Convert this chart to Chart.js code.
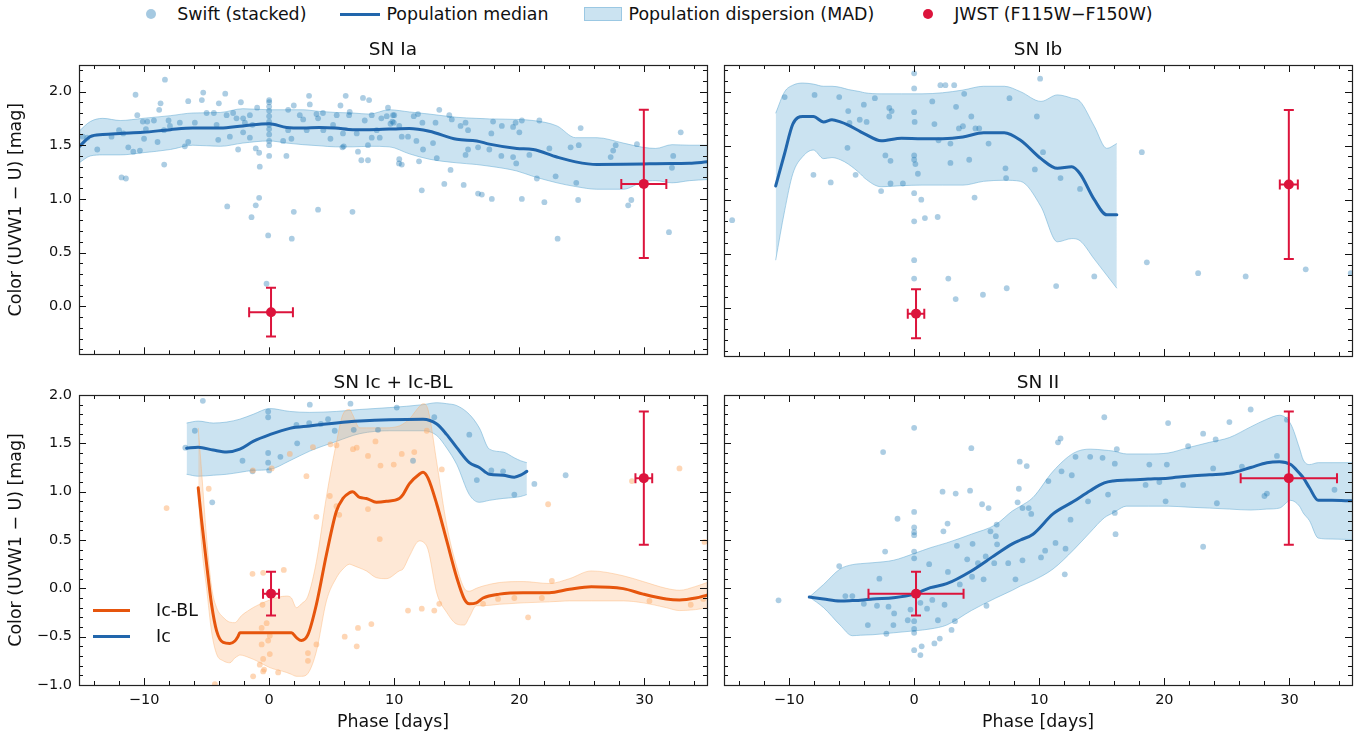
<!DOCTYPE html>
<html><head><meta charset="utf-8">
<script src="https://cdn.jsdelivr.net/npm/chart.js@4.4.0/dist/chart.umd.min.js"></script>
<style>
html,body{margin:0;padding:0;background:#fff;}
body{width:1369px;height:734px;position:relative;overflow:hidden;font-family:"DejaVu Sans",sans-serif;color:#111;}
canvas{position:absolute;}
#legend{position:absolute;top:3px;left:0;width:1284px;height:22px;display:flex;justify-content:center;align-items:center;font-size:17.4px;white-space:nowrap;}
.item{display:flex;align-items:center;margin:0 17px;}
.h{width:40px;height:20px;position:relative;margin-right:6px;}
.dot{position:absolute;left:15px;top:5px;width:10px;height:10px;border-radius:50%;}
.ln{position:absolute;left:0;top:8.5px;width:40px;height:3px;}
.rc{position:absolute;left:1px;top:3px;width:38px;height:14px;}
.il{position:absolute;font-size:17.4px;line-height:20px;}
.ilsw{position:absolute;height:3px;width:37px;}
</style></head>
<body>
<div id="legend">
  <div class="item"><div class="h"><div class="dot" style="background:rgba(31,119,180,0.4)"></div></div><span>Swift (stacked)</span></div>
  <div class="item"><div class="h"><div class="ln" style="background:#2166ac"></div></div><span>Population median</span></div>
  <div class="item"><div class="h"><div class="rc" style="background:rgba(107,174,214,0.35);border:1px solid rgba(107,174,214,0.5);box-sizing:border-box"></div></div><span>Population dispersion (MAD)</span></div>
  <div class="item"><div class="h"><div class="dot" style="background:#dc143c"></div></div><span>JWST (F115W−F150W)</span></div>
</div>
<canvas id="cIa" width="715" height="340" style="left:0;top:30px"></canvas>
<canvas id="cIb" width="653" height="340" style="left:716px;top:30px"></canvas>
<canvas id="cIc" width="715" height="364" style="left:0;top:370px"></canvas>
<canvas id="cII" width="653" height="364" style="left:716px;top:370px"></canvas>
<div class="ilsw" style="left:93px;top:609px;background:#e6550d"></div>
<div class="il" style="left:156px;top:600px">Ic-BL</div>
<div class="ilsw" style="left:93px;top:635px;background:#2166ac"></div>
<div class="il" style="left:156px;top:626px">Ic</div>
<script>
// ---------------- DATA ----------------
const phaseLimits = [-15.2, 35];
const yLimitsTop = [-0.447, 2.247];
const yLimitsBottom = [-1.0, 2.0];
const xTickValues = [-10, 0, 10, 20, 30];
const yTickValuesTop = [0.0, 0.5, 1.0, 1.5, 2.0];
const yTickValuesBottom = [-1.0, -0.5, 0.0, 0.5, 1.0, 1.5, 2.0];

// JWST measurement (F115W-F150W)
const jwstPhase = [0.15, 29.95];
const jwstColor = [-0.055, 1.14];
const jwstColorErr = [0.227, 0.69];
const jwstPhaseErrIa = [1.75, 1.8];
const jwstPhaseErrIb = [0.66, 0.72];
const jwstPhaseErrIc = [0.64, 0.67];
const jwstPhaseErrII = [3.8, 3.85];

// SN Ia
const iaSwift = [[-8.33,2.11],[-10.68,1.97],[-8.68,1.89],[-8.79,1.83],[-10.54,1.78],[-6.47,1.91],[-5.27,1.99],[-5.38,1.92],[-4.02,1.89],[-3.51,1.98],[-2.26,1.90],
[0,1.92],[0,1.90],[0,1.86],[0,1.82],[0,1.77],[0,1.72],[0,1.65],[0,1.54],[0,1.50],[0,1.40],[0,1.60],[0,1.69],
[1.97,1.87],[1.52,1.83],[3.78,1.79],[6.12,1.96],[5.7,1.87],[7.5,1.94],[7.99,1.92],[9.5,1.85],[9.85,1.72],[8.97,1.75],[7.64,1.73],[6.44,1.81],[6.39,1.78],[5.11,1.69],[3.91,1.75],[2.72,1.74],[2.45,1.78],[1.52,1.64],[1.12,1.54],[1.78,1.56],[3.0,1.64],[4.33,1.64],[5.9,1.61],[7.0,1.61],[8.84,1.57],[8.2,1.57],[5.86,1.48],[5.96,1.49],[7.1,1.44],[7.37,1.36],[7.9,1.36],[7.9,1.50],[10.38,1.33],[-0.75,1.30],[-0.8,1.43],[-1.07,1.47],[1.38,1.40],[-2.48,1.46],[-3.14,1.58],[-4.07,1.55],[-4.2,1.69],[-4.42,1.80],[-3.4,1.78],[-2.88,1.80],[-2.61,1.75],[-2.08,1.75],[-1.94,1.71],[-2.08,1.62],[-1.54,1.57],[-0.96,1.85],[-1.54,1.78],[-1.33,1.69],[-5.0,1.80],[-5.94,1.71],[-6.47,1.53],[-6.74,1.49],[-7.14,1.71],[-7.93,1.68],[-8.04,1.73],[-8.41,1.64],[-8.92,1.53],[-9.21,1.73],[-9.74,1.72],[-10.1,1.72],[-9.85,1.65],[-10.0,1.56],[-10.33,1.45],[-10.86,1.44],[-11.26,1.48],[-11.66,1.61],[-12.0,1.64],[-12.6,1.58],[-13.74,1.46],[-14.54,1.57],[-14.9,1.58],[-11.8,1.20],[-11.45,1.19],[-8.39,1.32],[-3.35,0.93],[-1.07,0.94],[-0.8,1.01],[-1.41,0.83],[-0.08,0.66],[1.97,0.88],[1.81,0.63],[3.91,0.90],[6.66,0.88],[-0.21,0.21],[3.19,1.96],[3.25,1.88],[4.9,1.56],[5.4,1.78],[4.3,1.80],[9.4,1.77],[9.7,1.70],[8.6,1.64],[8.2,1.78],[10.0,1.78],
[9.9,1.78],[9.96,1.71],[10.4,1.68],[10.6,1.58],[10.4,1.37],[10.6,1.32],[11.1,1.58],[11.56,1.77],[11.9,1.79],[12.25,1.71],[11.77,1.54],[11.98,1.35],[12.3,1.46],[12.2,1.08],[13.1,1.52],[13.3,1.71],[13.4,1.38],[13.6,1.83],[14.4,1.78],[14.6,1.74],[14.5,1.27],[14.0,1.14],[15.3,1.68],[15.7,1.71],[15.9,1.64],[15.9,1.46],[15.7,1.41],[15.55,1.13],[16.7,1.48],[16.7,1.05],[17.0,1.04],[17.6,1.46],[17.76,1.61],[17.9,1.72],[17.8,1.00],[18.56,1.40],[18.6,1.68],[19.5,1.39],[19.5,1.67],[19.7,1.71],[19.75,1.33],[20.0,1.62],[20.2,1.73],[20.2,1.00],[20.8,1.41],[21.4,1.19],[21.6,1.73],[22.0,0.97],[22.4,1.47],[22.9,1.21],[23.06,0.63],[24.1,1.48],[24.75,1.50],[24.9,1.66],[24.55,1.15],[24.7,0.99],[27.3,1.39],[27.5,1.45],[27.7,1.50],[28.95,0.99],[28.7,0.94],[29.4,1.51],[31.96,0.69],[32.2,1.29],[32.3,1.40],[32.9,1.62]];
const iaGridPhase = [-15.2,-14.3,-13.3,-11.9,-10.1,-7.9,-6.1,-3.9,-2.1,0,1.4,2.7,4.0,5.3,6.7,8.0,9.6,11.2,12.8,15.0,16.6,17.6,19.8,21.1,23.0,24.5,26.2,28.3,29.9,30.9,32.2,33.6,35];
const iaMedian = [1.485,1.58,1.60,1.61,1.62,1.645,1.66,1.66,1.68,1.70,1.665,1.66,1.665,1.66,1.645,1.645,1.65,1.655,1.63,1.555,1.54,1.51,1.47,1.46,1.39,1.345,1.32,1.322,1.325,1.328,1.33,1.332,1.345];
const iaMadHi = [1.63,1.72,1.75,1.73,1.75,1.775,1.80,1.805,1.84,1.83,1.83,1.83,1.815,1.805,1.80,1.79,1.83,1.81,1.79,1.76,1.75,1.745,1.74,1.73,1.68,1.57,1.57,1.52,1.48,1.47,1.505,1.50,1.50];
const iaMadLo = [1.335,1.40,1.41,1.41,1.43,1.46,1.50,1.49,1.52,1.54,1.52,1.505,1.495,1.485,1.485,1.49,1.485,1.42,1.37,1.336,1.32,1.305,1.26,1.21,1.15,1.115,1.09,1.09,1.16,1.17,1.15,1.17,1.18];

// SN Ib
const ibSwift = [[-14.55,0.81],[-10.35,1.95],[-7.96,1.97],[-5.99,1.95],[-5.27,1.82],[-5.17,1.71],[-4.35,1.74],[-3.8,1.72],[-4.02,1.88],[-3.14,1.94],[-1.99,1.85],[-1.8,1.82],[-1.99,1.77],[-5.33,1.48],[-8.05,1.23],[-6.67,1.16],[-4.68,1.23],[-2.64,1.08],[-2.3,1.41],[-1.89,1.36],[-1.89,1.15],[-0.9,1.15],[0,2.17],[0,2.03],[0,1.81],[0.04,1.72],[0,1.41],[0,1.37],[0.1,1.33],[0.3,1.24],[0,1.06],[0.57,1.0],[0,0.8],[0.86,0.83],[1.88,0.84],[0,0.44],[0,0.27],[1.62,1.70],[1.45,1.91],[2.1,2.06],[2.5,2.06],[3.2,2.06],[1.95,1.55],[2.9,1.52],[2.9,1.34],[3.35,1.86],[3.58,1.66],[3.9,1.68],[4.0,1.98],[4.4,1.37],[4.57,1.77],[4.9,1.66],[5.2,1.66],[4.83,1.02],[5.95,1.52],[2.73,0.27],[3.32,0.08],[5.5,0.12],[7.4,0.18],[7.3,1.29],[7.35,1.20],[7.62,1.94],[9.65,1.28],[9.81,1.77],[10.07,2.12],[10.3,1.44],[11.7,1.20],[13.26,1.10],[11.35,0.20],[14.4,0.29],[18.2,1.44],[18.6,0.42],[22.7,0.32],[26.5,0.29],[31.3,0.355],[34.9,0.32]];
const ibGridPhase = [-11.07,-10.35,-9.7,-8.9,-8.06,-7.24,-6.57,-5.9,-5.27,-4.3,-3.96,-2.64,-1.0,0.63,2.27,3.9,5.55,7.2,8.5,10.14,11.45,12.6,13.26,14.4,15.4,16.2];
const ibMedian = [1.127,1.43,1.70,1.77,1.77,1.72,1.74,1.72,1.69,1.63,1.61,1.546,1.57,1.565,1.565,1.58,1.62,1.62,1.55,1.38,1.29,1.305,1.24,1.0,0.86,0.86];
const ibMadHi = [1.80,2.0,2.06,2.08,2.07,2.05,2.05,2.04,2.02,2.0,1.99,1.98,1.98,1.98,1.99,2.015,2.05,2.05,2.0,1.91,1.97,1.94,1.91,1.68,1.475,1.52];
const ibMadLo = [0.44,0.90,1.24,1.40,1.46,1.38,1.39,1.37,1.33,1.24,1.20,1.12,1.13,1.135,1.135,1.135,1.17,1.18,1.17,0.935,0.61,0.64,0.62,0.45,0.30,0.18];

// SN Ic (blue) and Ic-BL (orange)
const icSwift = [[-5.3,1.94],[-5.94,1.63],[-6.7,1.455],[-4.55,0.89],[-2.13,1.32],[-1.33,1.21],[-0.08,1.83],[-0.08,1.77],[-0.08,1.40],[-0.08,1.30],[0,1.22],[0.9,1.36],[2.24,1.50],[2.18,1.69],[3.25,1.90],[3.2,1.71],[4.13,1.70],[4.71,1.75],[5.24,1.63],[6.5,1.91],[6.76,1.64],[8.7,1.64],[10.2,1.87],[11.5,1.32],[13.2,1.77],[16.0,1.59],[16.6,1.12],[17.76,1.22],[18.7,1.21],[19.6,0.97],[21.2,1.08],[23.7,1.17]];
const icGridPhase = [-6.6,-5.67,-4.47,-3.4,-2.34,-1.28,0.05,1.65,3.25,5.38,7.24,9.64,12.3,13.4,14.2,15.0,16.0,16.8,17.6,18.7,19.6,20.1,20.6];
const icMedian = [1.45,1.46,1.43,1.41,1.44,1.52,1.59,1.655,1.68,1.71,1.73,1.745,1.75,1.70,1.59,1.455,1.30,1.25,1.18,1.17,1.15,1.17,1.21];
const icMadHi = [1.71,1.73,1.71,1.72,1.75,1.80,1.86,1.83,1.82,1.83,1.85,1.87,1.90,1.92,1.91,1.89,1.80,1.66,1.44,1.41,1.35,1.32,1.30];
const icMadLo = [1.18,1.16,1.17,1.18,1.20,1.22,1.23,1.32,1.42,1.52,1.60,1.63,1.63,1.58,1.45,1.28,0.97,0.89,0.91,0.93,0.94,0.95,0.97];

const icblSwift = [[-8.2,0.83],[-4.83,1.03],[-1.33,0.15],[-0.48,0.16],[1.17,0.19],[-0.53,-0.17],[1.65,1.39],[0.2,1.24],[-1.3,1.22],[2.98,1.16],[3.5,1.46],[3.78,0.74],[4.85,0.955],[5.38,0.85],[5.6,0.76],[6.7,1.44],[7.0,1.455],[7.9,0.82],[7.9,1.37],[8.5,1.52],[8.9,1.27],[8.84,0.51],[9.96,1.28],[4.9,1.49],[5.38,1.48],
[-0.6,-0.41],[-0.2,-0.36],[0.05,-0.49],[-0.08,-0.54],[-0.6,-0.58],[0.05,-0.68],[-0.48,-0.73],[-0.75,-0.79],[-0.4,-0.84],[-0.48,-0.86],[0.72,-0.87],[-1.28,-0.91],[3.1,-0.67],[3.1,-0.75],[3.78,-0.58],[6.04,-0.50],[7.1,-0.41],[8.17,-0.37],[7.0,-0.60],[-4.34,-0.99],
[10.6,1.39],[11.6,1.41],[12.6,1.63],[13.8,1.23],[11.1,-0.23],[12.2,-0.21],[13.2,-0.23],[13.6,-0.16],[17.1,-0.16],[18.3,-0.11],[19.6,-0.10],[20.7,-0.30],[21.8,-0.10],[22.3,0.87],[22.6,0.076],[29.0,1.11],[32.8,1.24],[34.8,0.48],[30.4,-0.13],[33.7,-0.17],[34.7,-0.11]];
const icblGridPhase = [-5.67,-5.4,-5.0,-4.6,-4.2,-3.67,-3.14,-2.74,-2.5,-2.34,-1.54,-1.0,0.05,1.38,1.78,2.18,2.58,3.1,3.78,4.58,5.38,5.9,6.44,6.66,7.24,7.77,8.57,9.37,10.4,10.7,11.2,12.0,12.3,12.7,13.4,14.2,15.0,15.6,16.0,16.56,17.1,18.4,20.3,22.4,24.0,25.75,28.3,29.9,31.74,32.8,34.1,35];
const icblMedian = [1.04,0.70,0.25,-0.17,-0.44,-0.56,-0.57,-0.545,-0.50,-0.46,-0.46,-0.46,-0.46,-0.46,-0.46,-0.51,-0.54,-0.48,-0.165,0.35,0.80,0.93,0.99,1.0,0.94,0.93,0.89,0.90,0.93,0.97,1.08,1.18,1.20,1.14,0.87,0.49,0.11,-0.11,-0.16,-0.15,-0.10,-0.06,-0.045,-0.045,-0.01,0.017,-0.003,-0.06,-0.11,-0.12,-0.10,-0.07];
const icblMadHi = [1.66,1.21,0.52,0.01,-0.20,-0.30,-0.35,-0.355,-0.33,-0.30,-0.22,-0.18,-0.12,-0.08,-0.10,-0.20,-0.16,-0.08,0.28,0.95,1.51,1.80,1.85,1.80,1.66,1.66,1.66,1.66,1.68,1.70,1.75,1.88,1.91,1.85,1.30,0.65,0.22,0.0,-0.03,0.0,0.024,0.06,0.07,0.05,0.10,0.18,0.13,0.07,0.0,-0.02,0.02,0.06];
const icblMadLo = [1.0,0.45,0.0,-0.45,-0.68,-0.75,-0.77,-0.72,-0.70,-0.69,-0.72,-0.75,-0.82,-0.87,-0.89,-0.91,-0.91,-0.88,-0.65,-0.13,0.11,0.20,0.25,0.24,0.21,0.18,0.11,0.10,0.18,0.20,0.33,0.49,0.48,0.40,-0.05,-0.25,-0.37,-0.38,-0.30,-0.18,-0.18,-0.165,-0.15,-0.14,-0.13,-0.13,-0.13,-0.15,-0.20,-0.23,-0.22,-0.20];

// SN II
const iiSwift = [[-10.84,-0.124],[-5.99,0.23],[-5.5,-0.08],[-4.94,-0.08],[-4.02,-0.16],[-3.7,-0.38],[-2.97,-0.18],[-2.78,0.10],[-2.48,1.41],[-2.32,0.38],[-2.22,-0.47],[-2.05,-0.19],[-1.66,-0.38],[-1.6,-0.26],[-1.33,0.72],[-0.51,-0.33],[-0.29,-0.22],[0,1.66],[0,0.79],[0,0.63],[0,0.58],[0,0.55],[0,0.38],[0,0.31],[0,-0.07],[0,-0.34],[0,-0.42],[0,-0.46],[0,-0.64],[0.5,-0.69],[0.6,-0.60],[0.5,-0.15],[1.03,-0.21],[1.2,0.25],[1.45,-0.12],[1.62,-0.57],[1.9,-0.33],[2.05,-0.52],[2.27,1.0],[2.34,0.59],[2.43,-0.17],[2.67,0.67],[2.7,0.17],[2.99,-0.43],[3.32,0.98],[3.42,0.44],[3.26,-0.34],[3.65,0.04],[4.24,0.30],[4.47,1.01],[4.57,1.45],[4.67,0.46],[4.63,0.12],[5.1,0.26],[5.43,0.87],[5.72,0.33],[5.55,0.093],[5.78,-0.18],[5.95,0.83],[6.1,0.59],[6.4,0.26],[6.53,0.54],[6.6,0.66],[6.63,0.455],[7.52,0.26],[8.1,0.093],[8.27,0.89],[8.37,1.03],[8.44,1.31],[8.66,0.83],[8.66,0.29],[9.0,1.265],[9.16,0.83],[9.36,0.77],[10.14,0.32],[10.47,0.39],[10.73,1.11],[11.3,0.47],[11.5,1.51],[11.7,1.55],[11.78,1.21],[12.1,0.41],[12.04,0.145],[12.5,0.71],[12.6,1.17],[12.9,1.36],[13.9,0.90],[14.07,1.36],[15.06,1.35],[15.2,1.77],[15.5,0.97],[16.04,1.29],[16.04,0.78],[16.1,0.56],[16.2,1.44],[18.5,1.07],[18.8,1.28],[19.6,1.10],[20.1,0.90],[20.2,1.28],[20.3,1.71],[21.5,1.07],[21.9,1.47],[23.1,1.60],[23.1,0.43],[23.9,1.24],[24.1,1.54],[24.2,0.88],[25.2,1.72],[26.2,1.26],[26.9,1.85],[28.0,0.955],[28.2,0.98],[29.0,1.37],[29.8,1.745],[33.6,1.02]];
const iiGridPhase = [-8.38,-7.24,-5.92,-4.94,-4.28,-3.3,-1.66,0,1.3,2.6,4.57,6.53,7.85,8.5,9.5,11.1,12.76,14.07,15.2,15.9,17.0,18.7,20.3,21.9,23.6,25.2,26.9,28.2,29.2,30.1,30.8,31.1,31.6,32.3,33.4,35.0];
const iiMedian = [-0.09,-0.11,-0.13,-0.127,-0.124,-0.11,-0.097,-0.06,0.007,0.048,0.18,0.35,0.46,0.50,0.56,0.77,0.90,1.01,1.09,1.11,1.12,1.13,1.14,1.16,1.175,1.19,1.25,1.30,1.31,1.28,1.19,1.145,1.04,0.91,0.91,0.905];
const iiMadHi = [-0.09,0.04,0.20,0.245,0.255,0.265,0.29,0.36,0.42,0.47,0.56,0.66,0.80,0.85,0.94,1.21,1.40,1.44,1.43,1.42,1.39,1.39,1.40,1.455,1.51,1.56,1.67,1.75,1.79,1.70,1.45,1.33,1.28,1.30,1.30,1.30];
const iiMadLo = [-0.09,-0.20,-0.38,-0.49,-0.485,-0.48,-0.46,-0.44,-0.42,-0.38,-0.23,-0.10,-0.02,0.024,0.08,0.20,0.40,0.58,0.73,0.78,0.85,0.85,0.85,0.84,0.83,0.82,0.81,0.82,0.83,0.91,0.85,0.78,0.70,0.52,0.51,0.505];

// ---------------- STYLE ----------------
const FONT = '"DejaVu Sans", sans-serif';
const TXT = '#111';
const COL = {
  swift: 'rgba(31,119,180,0.37)',
  band: 'rgba(107,174,214,0.35)',
  bandEdge: 'rgba(107,174,214,0.55)',
  median: '#2166ac',
  orangePts: 'rgba(253,174,107,0.5)',
  orangeBand: 'rgba(253,174,107,0.28)',
  orangeEdge: 'rgba(253,174,107,0.4)',
  orange: '#e6550d',
  jwst: '#dc143c'
};

const pts = arr => arr.map(p => ({x: p[0], y: p[1]}));
const curve = (xs, ys) => xs.map((x, i) => ({x, y: ys[i]}));
const fmt = v => Number(v).toFixed(1).replace('-', '\u2212');
const fmtX = v => String(v).replace('-', '\u2212');

function minorList(lo, hi, step, majors) {
  const out = [];
  const n = Math.round((hi - lo) / step);
  for (let i = 0; i <= n; i++) {
    const v = +(lo + i * step).toFixed(3);
    if (!majors.some(m => Math.abs(m - v) < 1e-6)) out.push(v);
  }
  return out;
}
const xMinor = minorList(-14, 34, 2, xTickValues);
const yMinorTop = minorList(-0.4, 2.2, 0.1, yTickValuesTop);
const yMinorBottom = minorList(-0.9, 1.9, 0.1, yTickValuesBottom);

function framePlugin(yMajor, yMinor) {
  return {
    id: 'frame',
    afterDraw(chart) {
      const {ctx, chartArea: a, scales: {x, y}} = chart;
      ctx.save();
      ctx.strokeStyle = '#111';
      ctx.lineWidth = 1;
      ctx.beginPath();
      const vx = (v, len) => {
        const p = Math.round(x.getPixelForValue(v)) + 0.5;
        ctx.moveTo(p, a.bottom); ctx.lineTo(p, a.bottom - len);
        ctx.moveTo(p, a.top); ctx.lineTo(p, a.top + len);
      };
      const vy = (v, len) => {
        const p = Math.round(y.getPixelForValue(v)) + 0.5;
        ctx.moveTo(a.left, p); ctx.lineTo(a.left + len, p);
        ctx.moveTo(a.right, p); ctx.lineTo(a.right - len, p);
      };
      xTickValues.forEach(v => vx(v, 7));
      xMinor.forEach(v => vx(v, 4));
      yMajor.forEach(v => vy(v, 7));
      yMinor.forEach(v => vy(v, 4));
      ctx.stroke();
      ctx.lineWidth = 1.2;
      ctx.strokeStyle = '#222';
      ctx.strokeRect(Math.round(a.left) + 0.5, Math.round(a.top) + 0.5, Math.round(a.right - a.left), Math.round(a.bottom - a.top));
      ctx.restore();
    }
  };
}

const errorBars = {
  id: 'errorBars',
  beforeDatasetDraw(chart, args) {
    const ds = chart.data.datasets[args.index];
    if (!ds.xErr) return;
    const {ctx, scales: {x, y}} = chart;
    ctx.save();
    ctx.strokeStyle = COL.jwst;
    ctx.lineWidth = 2;
    ds.data.forEach((p, i) => {
      const cx = x.getPixelForValue(p.x), cy = y.getPixelForValue(p.y);
      const x0 = x.getPixelForValue(p.x - ds.xErr[i]), x1 = x.getPixelForValue(p.x + ds.xErr[i]);
      const y0 = y.getPixelForValue(p.y - ds.yErr[i]), y1 = y.getPixelForValue(p.y + ds.yErr[i]);
      const c = 5;
      ctx.beginPath();
      ctx.moveTo(x0, cy); ctx.lineTo(x1, cy);
      ctx.moveTo(cx, y0); ctx.lineTo(cx, y1);
      ctx.moveTo(x0, cy - c); ctx.lineTo(x0, cy + c);
      ctx.moveTo(x1, cy - c); ctx.lineTo(x1, cy + c);
      ctx.moveTo(cx - c, y0); ctx.lineTo(cx + c, y0);
      ctx.moveTo(cx - c, y1); ctx.lineTo(cx + c, y1);
      ctx.stroke();
    });
    ctx.restore();
  }
};

function bandSets(xs, lo, hi, fillCol, edgeCol, order) {
  return [
    {type: 'line', data: curve(xs, lo), showLine: true, borderColor: edgeCol, borderWidth: 1, pointRadius: 0, fill: false, cubicInterpolationMode: 'monotone', order},
    {type: 'line', data: curve(xs, hi), showLine: true, borderColor: edgeCol, borderWidth: 1, pointRadius: 0, fill: '-1', backgroundColor: fillCol, cubicInterpolationMode: 'monotone', order}
  ];
}
function medianSet(xs, ys, col, order) {
  return {type: 'line', data: curve(xs, ys), showLine: true, borderColor: col, borderWidth: 3, pointRadius: 0, fill: false, cubicInterpolationMode: 'monotone', borderCapStyle: 'round', order};
}
function swiftSet(arr, col, order) {
  return {type: 'scatter', data: pts(arr), backgroundColor: col, borderWidth: 0, pointRadius: 2.9, order};
}
function jwstSet(xErr) {
  return {type: 'scatter', data: curve(jwstPhase, jwstColor), xErr, yErr: jwstColorErr, backgroundColor: COL.jwst, borderColor: COL.jwst, borderWidth: 0, pointRadius: 5, order: 0};
}

function makePanel(id, o) {
  const left = o.left, bottom = o.bottom;
  const yMajor = bottom ? yTickValuesBottom : yTickValuesTop;
  const yMinor = bottom ? yMinorBottom : yMinorTop;
  const yLim = bottom ? yLimitsBottom : yLimitsTop;
  new Chart(document.getElementById(id), {
    type: 'scatter',
    data: {datasets: o.datasets},
    options: {
      responsive: false, animation: false, devicePixelRatio: 1,
      events: [],
      layout: {padding: {left: 0, right: left ? 8 : 17, top: 0, bottom: 0}},
      plugins: {
        legend: {display: false},
        tooltip: {enabled: false},
        title: {display: true, text: o.title, fullSize: false, color: TXT,
          font: {family: FONT, size: 18.5, weight: 'normal'},
          padding: bottom ? {top: 2.4, bottom: 0.4} : {top: 8.9, bottom: 3.9}}
      },
      scales: {
        x: {
          type: 'linear', min: phaseLimits[0], max: phaseLimits[1],
          grid: {display: false, drawTicks: false}, border: {display: false},
          afterBuildTicks: s => { s.ticks = xTickValues.map(v => ({value: v})); },
          afterFit: s => { s.height = bottom ? 49 : 14; },
          ticks: {display: bottom, padding: 7, color: TXT, font: {family: FONT, size: 14.5}, callback: v => fmtX(v), maxRotation: 0, autoSkip: false},
          title: {display: bottom, text: 'Phase [days]', color: TXT, font: {family: FONT, size: 17.4}, padding: {top: 0, bottom: 1.5}}
        },
        y: {
          type: 'linear', min: yLim[0], max: yLim[1],
          grid: {display: false, drawTicks: false}, border: {display: false},
          afterBuildTicks: s => { s.ticks = yMajor.map(v => ({value: v})); },
          afterFit: s => { s.width = left ? 79 : 8; },
          ticks: {display: left, padding: 7, color: TXT, font: {family: FONT, size: 14.5}, callback: v => fmt(v), autoSkip: false},
          title: {display: left, text: 'Color (UVW1 \u2212 U) [mag]', color: TXT, font: {family: FONT, size: 17.4}, padding: {top: 6.5, bottom: 0}}
        }
      }
    },
    plugins: [errorBars, framePlugin(yMajor, yMinor)]
  });
}

makePanel('cIa', {left: true, bottom: false, title: 'SN Ia', datasets: [
  ...bandSets(iaGridPhase, iaMadLo, iaMadHi, COL.band, COL.bandEdge, 4),
  swiftSet(iaSwift, COL.swift, 3),
  medianSet(iaGridPhase, iaMedian, COL.median, 1),
  jwstSet(jwstPhaseErrIa)
]});
makePanel('cIb', {left: false, bottom: false, title: 'SN Ib', datasets: [
  ...bandSets(ibGridPhase, ibMadLo, ibMadHi, COL.band, COL.bandEdge, 4),
  swiftSet(ibSwift, COL.swift, 3),
  medianSet(ibGridPhase, ibMedian, COL.median, 1),
  jwstSet(jwstPhaseErrIb)
]});
makePanel('cIc', {left: true, bottom: true, title: 'SN Ic + Ic-BL', datasets: [
  ...bandSets(icGridPhase, icMadLo, icMadHi, COL.band, COL.bandEdge, 6),
  ...bandSets(icblGridPhase, icblMadLo, icblMadHi, COL.orangeBand, COL.orangeEdge, 5),
  swiftSet(icSwift, COL.swift, 4),
  swiftSet(icblSwift, COL.orangePts, 3),
  medianSet(icGridPhase, icMedian, COL.median, 1),
  medianSet(icblGridPhase, icblMedian, COL.orange, 2),
  jwstSet(jwstPhaseErrIc)
]});
makePanel('cII', {left: false, bottom: true, title: 'SN II', datasets: [
  ...bandSets(iiGridPhase, iiMadLo, iiMadHi, COL.band, COL.bandEdge, 4),
  swiftSet(iiSwift, COL.swift, 3),
  medianSet(iiGridPhase, iiMedian, COL.median, 1),
  jwstSet(jwstPhaseErrII)
]});
</script>
</body></html>
